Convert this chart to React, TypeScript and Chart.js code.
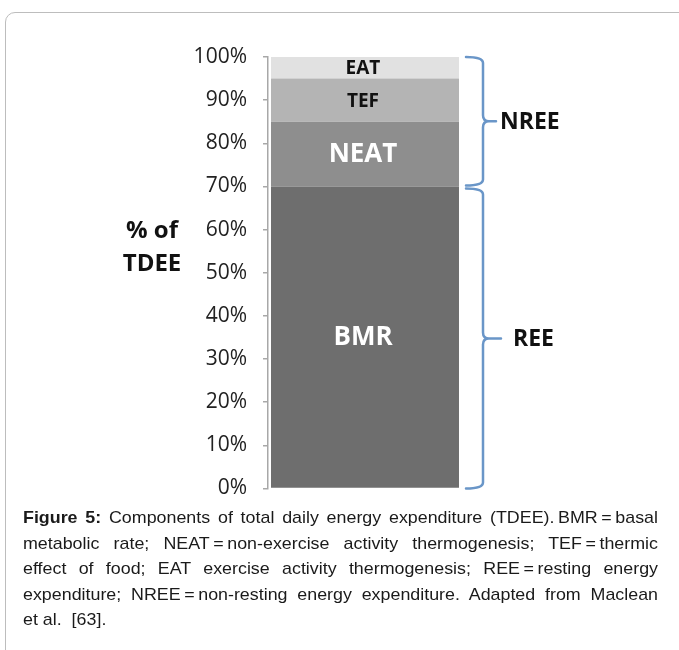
import React, { useEffect, useRef } from "react";
import { Chart, registerables } from "chart.js";

Chart.register(...registerables);

const categories = ["TDEE"];
const seriesLabels = ["BMR", "NEAT", "TEF", "EAT"];
const bmrValues = [70];
const neatValues = [15];
const tefValues = [10];
const eatValues = [5];
const seriesColors = ["#6e6e6e", "#8e8e8e", "#b4b4b4", "#e1e1e1"];
const seriesTextColors = ["#ffffff", "#ffffff", "#111111", "#111111"];
const seriesFontSizes = [26, 26, 19, 19];
const yTickValues = [0, 10, 20, 30, 40, 50, 60, 70, 80, 90, 100];
const bracketLabels = ["REE", "NREE"];
const bracketFrom = [0, 70];
const bracketTo = [70, 100];

const captionLines = [
  [{ b: "Figure 5:" }, " Components of total daily energy expenditure (TDEE).\u2009BMR\u2009=\u2009basal"],
  ["metabolic rate; NEAT\u2009=\u2009non-exercise activity thermogenesis; TEF\u2009=\u2009thermic"],
  ["effect of food; EAT exercise activity thermogenesis; REE\u2009=\u2009resting energy"],
  ["expenditure; NREE\u2009=\u2009non-resting energy expenditure. Adapted from Maclean"],
  ["et al.\u00a0 [63]."],
];

const labelsPlugin = {
  id: "labelsPlugin",
  afterDatasetsDraw(chart: any) {
    const ctx = chart.ctx;
    const y = chart.scales.y;
    const area = chart.chartArea;
    ctx.save();
    chart.data.datasets.forEach((ds: any, i: number) => {
      const meta = chart.getDatasetMeta(i);
      meta.data.forEach((el: any) => {
        const cy = (el.y + el.base) / 2;
        ctx.fillStyle = seriesTextColors[i];
        ctx.font = `bold ${seriesFontSizes[i]}px "Open Sans"`;
        ctx.textAlign = "center";
        ctx.textBaseline = "middle";
        ctx.fillText(ds.label, el.x - 2, cy + 1);
      });
    });
    ctx.strokeStyle = "#6a96c8";
    ctx.lineWidth = 2.5;
    ctx.lineCap = "round";
    const x0 = area.right + 4;
    const xv = area.right + 21;
    const r = 6;
    bracketLabels.forEach((lab, i) => {
      let top = y.getPixelForValue(bracketTo[i]);
      let bottom = y.getPixelForValue(bracketFrom[i]);
      if (bracketTo[i] < 100) top += 2;
      if (bracketFrom[i] > 0) bottom -= 1;
      const mid = (top + bottom) / 2;
      const xt = i === 1 ? area.right + 34 : area.right + 39;
      const xl = i === 1 ? area.right + 38 : area.right + 51;
      ctx.beginPath();
      ctx.moveTo(x0, top);
      ctx.quadraticCurveTo(xv, top, xv, top + r);
      ctx.lineTo(xv, mid - r);
      ctx.quadraticCurveTo(xv, mid, xv + r, mid);
      ctx.lineTo(xt, mid);
      ctx.moveTo(xv + r, mid);
      ctx.quadraticCurveTo(xv, mid, xv, mid + r);
      ctx.lineTo(xv, bottom - r);
      ctx.quadraticCurveTo(xv, bottom, x0, bottom);
      ctx.stroke();
      ctx.fillStyle = "#111111";
      ctx.font = 'bold 23px "Open Sans"';
      ctx.textAlign = "left";
      ctx.textBaseline = "middle";
      ctx.fillText(lab, xl, mid + 1);
    });
    ctx.fillStyle = "#111111";
    ctx.font = 'bold 24px "Open Sans"';
    ctx.textAlign = "center";
    ctx.textBaseline = "middle";
    ctx.fillText("% of", 152, 231);
    ctx.fillText("TDEE", 152, 264);
    ctx.restore();
  },
};

export default function App() {
  const ref = useRef<HTMLCanvasElement>(null);
  useEffect(() => {
    if (!ref.current) return;
    const values = [bmrValues, neatValues, tefValues, eatValues];
    const chart = new Chart(ref.current, {
      type: "bar",
      data: {
        labels: categories,
        datasets: seriesLabels.map((l, i) => ({
          label: l,
          data: values[i],
          backgroundColor: seriesColors[i],
          borderWidth: 0,
          categoryPercentage: 1,
          barPercentage: 0.969,
        })),
      },
      options: {
        responsive: false,
        animation: false,
        layout: { padding: { top: 57, bottom: 12, left: 0, right: 217 } },
        plugins: { legend: { display: false }, tooltip: { enabled: false } },
        scales: {
          x: { stacked: true, display: false },
          y: {
            stacked: true,
            min: 0,
            max: 100,
            afterFit: (s: any) => {
              s.width = 268;
            },
            afterBuildTicks: (s: any) => {
              s.ticks = yTickValues.map((v) => ({ value: v }));
            },
            ticks: {
              padding: 16,
              color: "#222222",
              font: { family: "Open Sans", size: 21 },
              callback: (v: any) => v + "%",
            },
            grid: {
              drawOnChartArea: false,
              drawTicks: true,
              tickLength: 5,
              color: "#a8a8a8",
              lineWidth: 1.5,
            },
            border: { display: true, color: "#a8a8a8", width: 1.5 },
          },
        },
      },
      plugins: [labelsPlugin],
    });
    return () => chart.destroy();
  }, []);

  return (
    <div
      style={{
        position: "fixed",
        left: 0,
        top: 0,
        width: 679,
        height: 650,
        overflow: "hidden",
        background: "#fff",
      }}
    >
      <div
        style={{
          position: "absolute",
          left: 5,
          top: 12,
          width: 720,
          height: 720,
          border: "1.5px solid #bdbdbd",
          borderRadius: 10,
          boxSizing: "border-box",
        }}
      />
      <canvas ref={ref} width={679} height={517} style={{ position: "absolute", left: 0, top: 0 }} />
      <div
        style={{
          position: "absolute",
          left: 23,
          top: 505,
          width: 635 / 1.05,
          transform: "scaleX(1.05)",
          transformOrigin: "0 0",
          fontFamily: '"Liberation Sans", Arial, sans-serif',
          fontSize: 17,
          lineHeight: "25.5px",
          color: "#1a1a1a",
        }}
      >
        {captionLines.map((line, i) => (
          <div
            key={i}
            style={{
              textAlign: "justify",
              textAlignLast: i < captionLines.length - 1 ? "justify" : "left",
              whiteSpace: "nowrap",
            }}
          >
            {line.map((part: any, j: number) =>
              typeof part === "string" ? <span key={j}>{part}</span> : <b key={j}>{part.b}</b>
            )}
          </div>
        ))}
      </div>
    </div>
  );
}
